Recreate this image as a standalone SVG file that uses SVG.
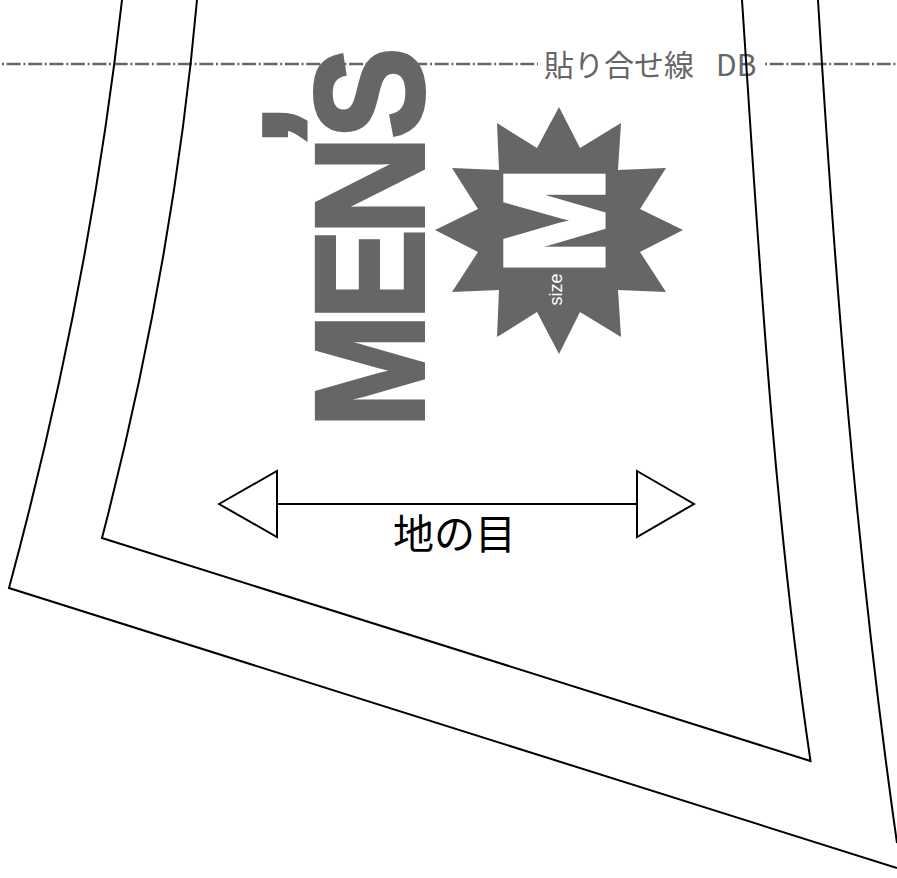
<svg xmlns="http://www.w3.org/2000/svg" width="897" height="878" viewBox="0 0 897 878">
<style>
.cut{fill:none;stroke:#000;stroke-width:2}
.gray{fill:#666}
.jp{font-family:"Noto Sans CJK JP","Liberation Sans",sans-serif}
.lat{font-family:"Liberation Sans",Arial,sans-serif}
.dash{fill:none;stroke:#666;stroke-width:2.4;stroke-dasharray:14 2.7 2 2.7;stroke-dashoffset:16.7}
</style>
<rect width="897" height="878" fill="#fff"/>
<g id="seam-line">
<path class="dash" d="M2 64H538"/>
<path class="dash" d="M765 64H897"/>
<text class="jp gray" x="544" y="76" font-size="30">貼り合せ線</text>
<text class="jp gray" x="716" y="76" font-size="30">DB</text>
</g>
<g id="mens-label">
<text class="lat gray" transform="translate(423 420) rotate(-90) scale(.89 1)" font-size="154" font-weight="700" stroke="#666" stroke-width="4"><tspan x="-8.9 112 208" y="0">MEN</tspan><tspan x="314" y="-70" font-size="125" stroke-width="10">’</tspan><tspan x="316" y="0">S</tspan></text>
</g>
<g id="size-badge">
<polygon class="gray" points="559,107 537,148 497,123 499,170 452,168 478,209 435,230 478,252 452,292 499,290 497,337 537,312 559,354 580,312 621,337 618,290 666,292 640,252 683,230 640,209 666,168 618,170 621,123 580,148"/>
<text class="lat" fill="#fff" stroke="#fff" stroke-width="5" transform="translate(602.5 273.7) rotate(-90) scale(.904 1)" font-size="141" font-weight="700">M</text>
<text class="lat" fill="#fff" transform="translate(562 305.5) rotate(-90)" font-size="18">size</text>
</g>
<g id="outlines">
<path class="cut" d="M122 0C100 196 62 392 9 588L897 868"/>
<path class="cut" d="M818 0C835 281 857 562 897 843"/>
<path class="cut" d="M197 0C181 179 148.5 359 102 538L810.5 761C773 507 759 254 742 0"/>
</g>
<g id="grain-arrow">
<path class="cut" d="M277 504H637"/>
<polygon class="cut" points="219,504 277,471 277,537"/>
<polygon class="cut" points="637,471 694,504 637,537"/>
<text class="jp" x="393" y="549" font-size="41">地の目</text>
</g>
</svg>
